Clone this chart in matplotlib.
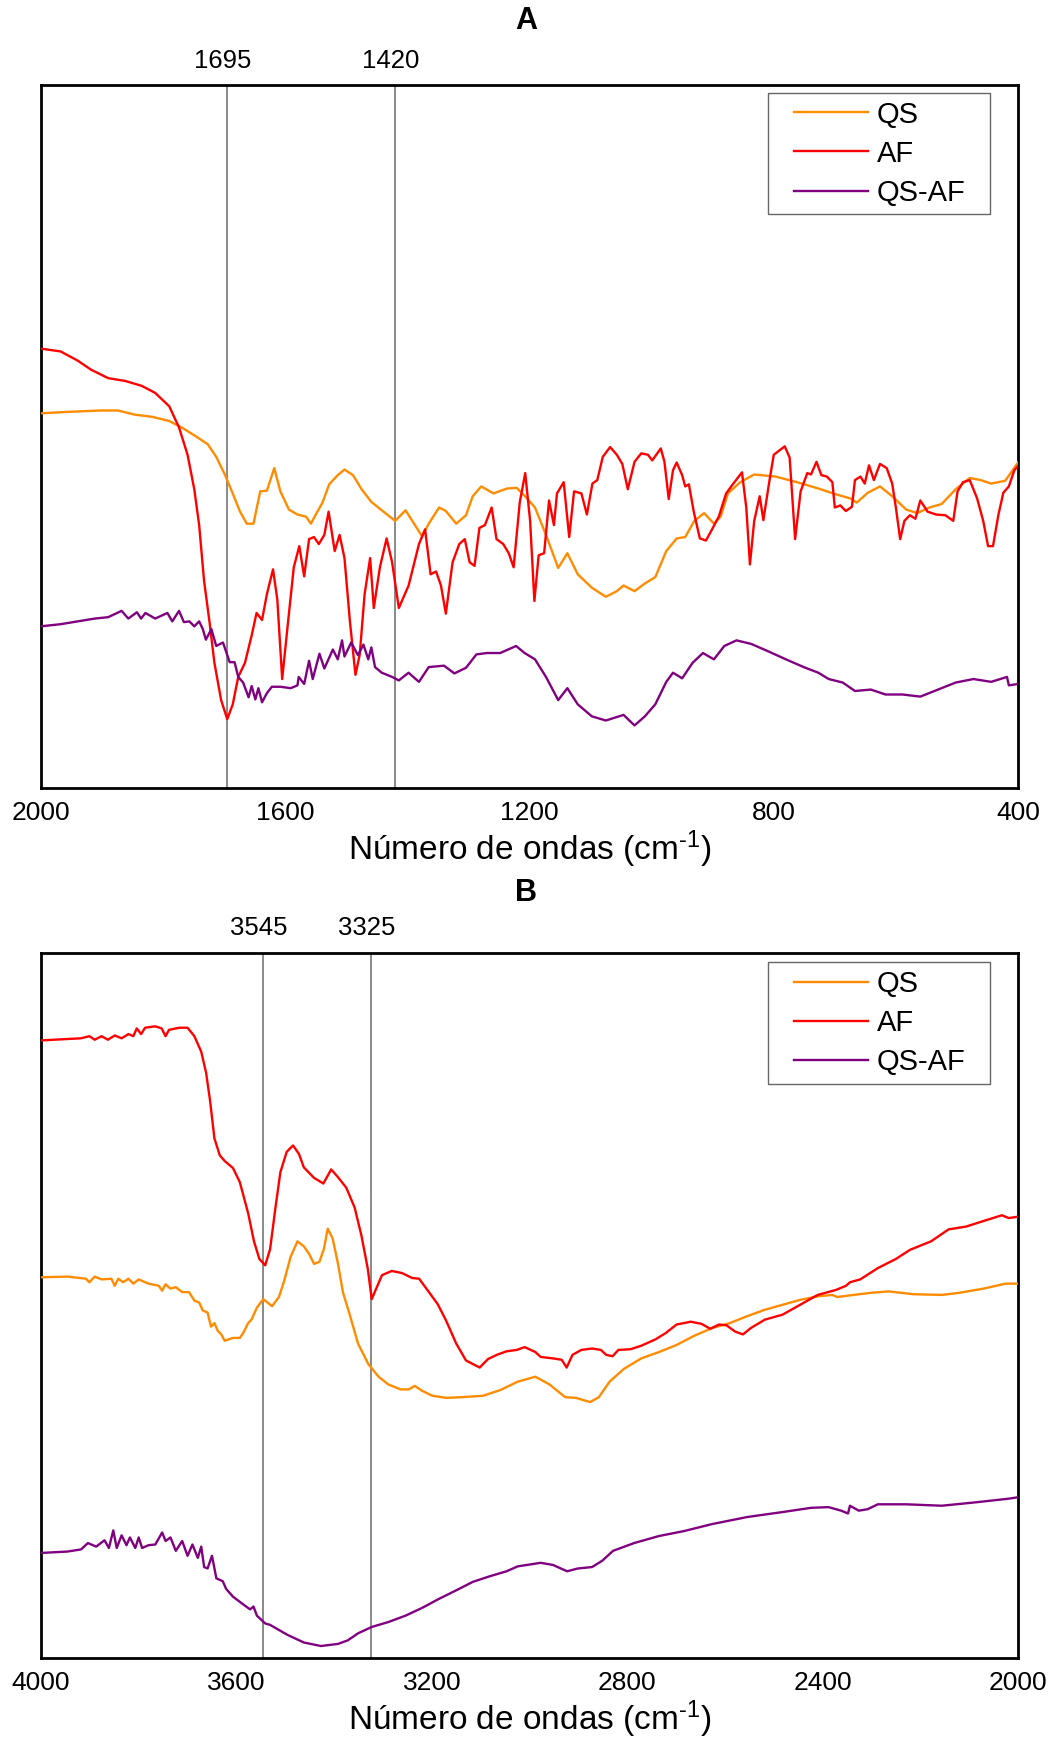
'''
FTIR spectra of QS, AF and the QS-AF product.
Panel A: fingerprint region, panel B: 4000-2000 cm-1.
'''

import matplotlib
matplotlib.use("Agg")
import matplotlib.pyplot as plt
from matplotlib.lines import Line2D
from matplotlib.legend_handler import HandlerLine2D

plt.rcParams['font.family'] = ['Liberation Sans', 'DejaVu Sans']
plt.rcParams['mathtext.default'] = 'regular'

# ---- panel A (2000 - 400 cm-1), transmittance in arbitrary units (0-100 of the frame)
wn_qs_a = [2000, 1956, 1902, 1874, 1846, 1818, 1790, 1768, 1746, 1727, 1713, 1699, 1686, 1674,
	1663, 1652, 1641, 1630, 1618, 1608, 1594, 1580, 1566, 1558, 1550, 1539, 1528, 1514, 1503,
	1489, 1475, 1459, 1439, 1420, 1403, 1389, 1376, 1365, 1348, 1337, 1320, 1304, 1293, 1279,
	1259, 1237, 1221, 1204, 1191, 1173, 1153, 1138, 1121, 1098, 1075, 1057, 1046, 1028, 1011,
	994, 976, 959, 945, 930, 914, 898, 887, 875, 855, 832, 797, 762, 727, 699, 675, 664, 646,
	626, 606, 583, 565, 545, 525, 502, 479, 461, 444, 421, 412, 400]
t_qs_a = [53.3, 53.5, 53.7, 53.7, 53.1, 52.8, 52.2, 51.2, 50.0, 48.9, 47.1, 44.6, 41.9, 39.3,
	37.6, 37.6, 42.2, 42.3, 45.5, 42.2, 39.6, 38.9, 38.6, 37.6, 38.9, 40.6, 43.2, 44.5, 45.3,
	44.5, 42.5, 40.7, 39.3, 38.0, 39.5, 37.6, 35.8, 37.6, 39.9, 39.4, 37.6, 38.8, 41.5, 42.9,
	41.9, 42.6, 42.7, 41.2, 39.9, 36.0, 31.3, 33.4, 30.4, 28.5, 27.2, 28.0, 28.8, 28.0, 29.1,
	30.0, 33.7, 35.5, 35.7, 38.0, 39.1, 37.6, 38.6, 41.9, 43.5, 44.6, 44.3, 43.5, 42.6, 41.8,
	41.2, 40.6, 42.0, 42.9, 41.5, 39.6, 39.1, 39.9, 40.4, 42.5, 44.1, 43.8, 43.3, 43.7, 44.8, 46.3]

wn_af_a = [2000, 1968, 1940, 1918, 1890, 1862, 1835, 1813, 1790, 1774, 1760, 1749, 1741, 1733,
	1724, 1716, 1705, 1695, 1686, 1677, 1666, 1655, 1647, 1638, 1630, 1620, 1613, 1605, 1597,
	1586, 1577, 1569, 1561, 1553, 1545, 1536, 1529, 1519, 1511, 1503, 1494, 1485, 1478, 1470,
	1461, 1455, 1445, 1434, 1425, 1414, 1398, 1381, 1371, 1362, 1353, 1345, 1337, 1326, 1315,
	1306, 1298, 1290, 1282, 1273, 1262, 1254, 1243, 1234, 1226, 1216, 1207, 1199, 1192, 1185,
	1176, 1168, 1160, 1155, 1144, 1135, 1127, 1115, 1106, 1097, 1089, 1080, 1068, 1057, 1048,
	1039, 1028, 1017, 1006, 999, 985, 979, 972, 965, 959, 950, 945, 939, 931, 921, 911, 901,
	890, 878, 867, 852, 845, 839, 832, 823, 817, 808, 800, 782, 774, 765, 756, 745, 739, 730,
	722, 713, 704, 700, 691, 682, 672, 667, 658, 651, 644, 636, 626, 615, 606, 600, 593, 586,
	577, 568, 560, 548, 534, 519, 506, 499, 490, 479, 467, 457, 449, 441, 432, 424, 415, 406, 400]
t_af_a = [62.5, 62.1, 60.8, 59.5, 58.3, 57.9, 57.2, 56.2, 54.3, 51.3, 47.4, 42.5, 37.4, 29.5,
	23.6, 17.8, 12.5, 9.8, 11.9, 15.8, 17.8, 21.7, 24.9, 23.9, 27.6, 31.1, 26.8, 15.5, 22.3,
	31.4, 34.4, 30.1, 35.4, 35.7, 34.7, 36.0, 39.3, 33.7, 36.0, 32.7, 23.6, 16.1, 19.0, 27.6,
	32.7, 25.6, 31.4, 35.5, 32.1, 25.6, 28.8, 34.7, 36.8, 30.4, 30.8, 28.8, 24.8, 32.1, 34.7,
	35.4, 32.1, 31.6, 37.0, 37.4, 39.9, 35.4, 34.7, 33.4, 31.4, 40.6, 44.8, 38.0, 26.6, 33.1,
	33.4, 40.9, 37.4, 41.9, 43.5, 35.7, 42.2, 41.9, 38.9, 43.3, 43.8, 47.1, 48.5, 47.4, 46.1,
	42.5, 46.4, 47.6, 47.4, 46.6, 48.3, 46.4, 41.1, 45.2, 46.3, 44.5, 42.9, 43.2, 39.3, 35.5,
	35.2, 36.8, 38.6, 41.9, 43.2, 44.9, 39.9, 31.8, 38.0, 41.5, 38.1, 43.2, 47.4, 48.6, 47.0,
	35.4, 42.2, 44.8, 44.6, 46.4, 44.5, 44.3, 43.5, 39.9, 40.2, 39.4, 40.0, 43.8, 44.3, 43.3,
	45.9, 43.8, 46.1, 45.5, 43.3, 39.9, 35.4, 38.0, 38.8, 38.3, 40.9, 39.3, 38.9, 38.8, 38.0,
	42.2, 43.5, 43.8, 41.2, 38.0, 34.4, 34.4, 38.9, 42.0, 42.9, 45.2, 45.8]

wn_qsaf_a = [2000, 1968, 1940, 1912, 1890, 1868, 1857, 1843, 1836, 1829, 1813, 1793, 1785,
	1774, 1766, 1757, 1749, 1741, 1735, 1730, 1721, 1713, 1702, 1691, 1683, 1677, 1669, 1660,
	1655, 1649, 1644, 1638, 1630, 1622, 1608, 1591, 1580, 1578, 1569, 1561, 1555, 1544, 1536,
	1522, 1514, 1507, 1503, 1492, 1481, 1472, 1464, 1459, 1453, 1442, 1425, 1414, 1398, 1389,
	1381, 1365, 1340, 1323, 1304, 1287, 1270, 1248, 1222, 1208, 1191, 1173, 1153, 1138, 1121,
	1098, 1075, 1046, 1028, 1011, 994, 976, 965, 950, 933, 916, 898, 881, 861, 837, 808, 780,
	751, 727, 710, 687, 667, 641, 617, 589, 560, 531, 502, 473, 444, 418, 415, 400]
t_qsaf_a = [23.0, 23.3, 23.7, 24.1, 24.3, 25.2, 24.1, 25.0, 24.1, 24.9, 24.1, 24.9, 23.7,
	25.2, 23.6, 23.7, 23.0, 23.7, 22.6, 21.1, 22.6, 20.2, 20.7, 17.9, 17.9, 15.8, 15.0, 12.9,
	14.5, 12.6, 14.2, 12.2, 13.5, 14.4, 14.4, 14.2, 14.6, 15.8, 14.8, 18.1, 15.5, 19.1, 17.0,
	19.7, 18.3, 21.0, 18.7, 20.7, 18.9, 20.4, 18.3, 20.0, 17.2, 16.4, 15.8, 15.3, 16.4, 15.7,
	15.1, 17.2, 17.4, 16.3, 17.1, 19.0, 19.2, 19.2, 20.2, 19.2, 18.3, 15.8, 12.5, 14.2, 11.9,
	10.2, 9.6, 10.4, 8.9, 10.2, 11.9, 15.1, 16.4, 15.6, 17.8, 19.2, 18.3, 20.2, 21.0, 20.5,
	19.4, 18.3, 17.2, 16.4, 15.5, 15.0, 13.8, 14.0, 13.3, 13.3, 13.0, 14.0, 15.0, 15.5, 15.1,
	15.8, 14.6, 14.8]

# ---- panel B (4000 - 2000 cm-1)
wn_qs_b = [4000, 3946, 3908, 3901, 3890, 3876, 3856, 3849, 3842, 3832, 3821, 3811, 3800, 3780,
	3759, 3752, 3745, 3735, 3724, 3711, 3697, 3686, 3676, 3669, 3659, 3652, 3645, 3638, 3631,
	3624, 3607, 3593, 3586, 3576, 3569, 3558, 3545, 3527, 3513, 3503, 3489, 3475, 3462, 3451,
	3441, 3430, 3421, 3413, 3403, 3392, 3382, 3368, 3351, 3330, 3309, 3289, 3264, 3247, 3235,
	3220, 3199, 3171, 3137, 3095, 3060, 3024, 2988, 2959, 2927, 2905, 2876, 2858, 2836, 2807,
	2771, 2735, 2699, 2663, 2626, 2590, 2554, 2518, 2482, 2446, 2410, 2380, 2370, 2337, 2301,
	2265, 2214, 2156, 2120, 2070, 2026, 2000]
t_qs_b = [54.0, 54.1, 53.8, 53.3, 54.1, 53.7, 53.8, 52.8, 53.8, 53.3, 53.8, 53.1, 53.7, 53.1,
	52.8, 52.1, 53.0, 52.4, 52.6, 51.9, 51.9, 50.7, 50.4, 49.3, 49.0, 47.0, 47.5, 46.4, 45.9,
	45.0, 45.4, 45.4, 46.1, 47.5, 48.0, 49.7, 50.9, 49.9, 51.2, 53.3, 56.9, 59.1, 58.4, 57.3,
	55.9, 56.2, 58.0, 60.9, 59.5, 55.9, 51.9, 48.7, 44.6, 41.7, 39.9, 38.8, 38.1, 38.1, 38.6,
	37.9, 37.2, 36.9, 37.0, 37.2, 38.0, 39.2, 39.9, 38.8, 37.0, 36.9, 36.3, 37.0, 39.2, 41.0,
	42.5, 43.4, 44.4, 45.7, 46.8, 47.5, 48.5, 49.4, 50.1, 50.8, 51.3, 51.5, 51.2, 51.5, 51.8,
	52.0, 51.6, 51.5, 51.8, 52.4, 53.1, 53.1]

wn_af_b = [4000, 3946, 3918, 3901, 3890, 3876, 3863, 3849, 3835, 3821, 3811, 3804, 3795, 3787,
	3766, 3753, 3745, 3738, 3717, 3700, 3686, 3672, 3662, 3654, 3645, 3634, 3624, 3607, 3593,
	3576, 3564, 3553, 3541, 3531, 3520, 3510, 3497, 3484, 3472, 3462, 3441, 3422, 3406, 3392,
	3375, 3358, 3344, 3331, 3323, 3315, 3302, 3282, 3261, 3240, 3226, 3209, 3188, 3171, 3150,
	3130, 3102, 3085, 3067, 3047, 3026, 3010, 2988, 2977, 2952, 2934, 2924, 2912, 2894, 2872,
	2854, 2843, 2830, 2818, 2793, 2771, 2742, 2721, 2699, 2670, 2648, 2630, 2612, 2597, 2579,
	2563, 2547, 2518, 2482, 2446, 2410, 2373, 2352, 2344, 2323, 2287, 2250, 2221, 2178, 2142,
	2106, 2070, 2033, 2019, 2000]
t_af_b = [87.6, 87.8, 87.9, 88.2, 87.7, 88.2, 87.7, 88.3, 87.9, 88.5, 88.2, 89.3, 88.5, 89.4,
	89.6, 89.3, 88.2, 89.1, 89.4, 89.4, 88.2, 86.0, 83.0, 79.1, 73.7, 71.3, 70.5, 69.5, 67.5,
	63.1, 59.1, 56.6, 55.7, 58.0, 63.9, 68.9, 71.8, 72.7, 71.5, 69.6, 68.1, 67.3, 69.3, 68.2,
	66.7, 63.9, 59.9, 55.2, 50.9, 52.2, 54.3, 54.9, 54.6, 53.9, 53.8, 52.2, 50.2, 47.9, 44.6,
	42.2, 41.2, 42.4, 43.0, 43.5, 43.7, 44.1, 43.4, 42.7, 42.5, 42.3, 41.2, 43.0, 43.7, 43.9,
	43.7, 43.0, 42.8, 43.7, 43.8, 44.3, 45.2, 46.1, 47.3, 47.7, 47.4, 46.7, 47.3, 47.2, 46.3,
	45.9, 46.8, 48.0, 48.7, 50.1, 51.5, 52.2, 52.8, 53.3, 53.7, 55.3, 56.6, 57.9, 59.1, 60.8,
	61.2, 62.0, 62.8, 62.4, 62.6]

wn_qsaf_b = [4000, 3946, 3918, 3904, 3887, 3870, 3861, 3852, 3845, 3835, 3825, 3818, 3807,
	3800, 3793, 3780, 3766, 3752, 3745, 3735, 3724, 3711, 3700, 3690, 3679, 3672, 3666, 3659,
	3650, 3641, 3628, 3621, 3607, 3586, 3572, 3565, 3558, 3541, 3531, 3496, 3462, 3427, 3392,
	3372, 3351, 3323, 3289, 3254, 3220, 3185, 3150, 3116, 3081, 3047, 3024, 2977, 2952, 2923,
	2901, 2872, 2851, 2829, 2786, 2735, 2684, 2626, 2554, 2482, 2424, 2388, 2362, 2348, 2344,
	2326, 2308, 2287, 2229, 2156, 2084, 2019, 2000]
t_qsaf_b = [14.9, 15.1, 15.4, 16.3, 15.8, 16.7, 15.6, 18.1, 15.6, 17.4, 16.0, 17.1, 15.6,
	17.1, 15.6, 16.0, 16.1, 17.8, 16.6, 17.1, 15.2, 16.6, 14.5, 16.1, 14.2, 15.8, 12.9, 12.7,
	14.5, 11.3, 10.9, 9.8, 8.7, 7.6, 6.9, 7.3, 6.0, 4.9, 4.7, 3.3, 2.2, 1.7, 2.0, 2.5, 3.5,
	4.4, 5.1, 6.0, 7.1, 8.4, 9.6, 10.8, 11.6, 12.3, 13.0, 13.5, 13.2, 12.3, 12.7, 12.9, 13.8,
	15.2, 16.3, 17.3, 18.0, 19.0, 20.0, 20.7, 21.3, 21.4, 20.9, 20.5, 21.6, 20.9, 21.1, 21.8,
	21.8, 21.6, 22.1, 22.6, 22.8]

labels = ["QS", "AF", "QS-AF"]
colors = ["#FF8C00", "#FF0000", "#800080"]
marks_a = [1695, 1420]
marks_b = [3545, 3325]


def spectrum_panel(ax, series, xlim, xticks, marks, legend_top):

	for (wn, t), label, color in zip(series, labels, colors):
		ax.plot(wn, t, color = color, lw = 1.7, label = label, zorder = 3)

	for m in marks:
		ax.axvline(m, color = "#808080", lw = 1.3, zorder = 2)
		ax.annotate(str(m), xy = (m, 1), xycoords = ("data", "axes fraction"),
			xytext = (-3, 9), textcoords = "offset points", ha = "center", va = "bottom",
			fontsize = 18.5)

	ax.set_xlim(*xlim)
	ax.set_ylim(0, 100)
	ax.set_xticks(xticks)
	ax.set_yticks([])
	ax.tick_params(axis = "x", length = 0, pad = 9, labelsize = 19)
	ax.set_xlabel("Número de ondas (cm$^{\u2010 1}$)", fontsize = 24, labelpad = 3)

	for s in ax.spines.values():
		s.set_linewidth(2.0)
		s.set_color("black")

	# box stretched to the reference width, handles padded from the left edge
	leg = ax.legend(loc = "upper left", bbox_to_anchor = (0.744, 0, 0.227, legend_top),
		mode = "expand", borderaxespad = 0, fontsize = 21, frameon = True, fancybox = False,
		handlelength = 3.17, handletextpad = 0.31, labelspacing = 0.38, borderpad = 0.26,
		handler_map = {Line2D: HandlerLine2D(xpad = 0.63)})
	leg.get_frame().set_edgecolor("#404040")
	leg.get_frame().set_linewidth(1.0)


def main():

	fig = plt.figure(figsize = (10.54, 17.39), dpi = 100)
	W, H = 1054, 1739

	axA = fig.add_axes([41 / W, 1 - 788 / H, 977 / W, 703 / H])
	axB = fig.add_axes([41 / W, 1 - 1658 / H, 977 / W, 705 / H])

	spectrum_panel(axA, [(wn_qs_a, t_qs_a), (wn_af_a, t_af_a), (wn_qsaf_a, t_qsaf_a)],
		(2000, 400), [2000, 1600, 1200, 800, 400], marks_a, 0.9886)
	spectrum_panel(axB, [(wn_qs_b, t_qs_b), (wn_af_b, t_af_b), (wn_qsaf_b, t_qsaf_b)],
		(4000, 2000), [4000, 3600, 3200, 2800, 2400, 2000], marks_b, 0.9868)

	fig.text(526 / W, 1 - 21 / H, "A", ha = "center", va = "center", fontsize = 22, fontweight = "bold")
	fig.text(526 / W, 1 - 893 / H, "B", ha = "center", va = "center", fontsize = 22, fontweight = "bold")

	fig.savefig("out.png", dpi = 100)


if __name__ == "__main__":
	main()
